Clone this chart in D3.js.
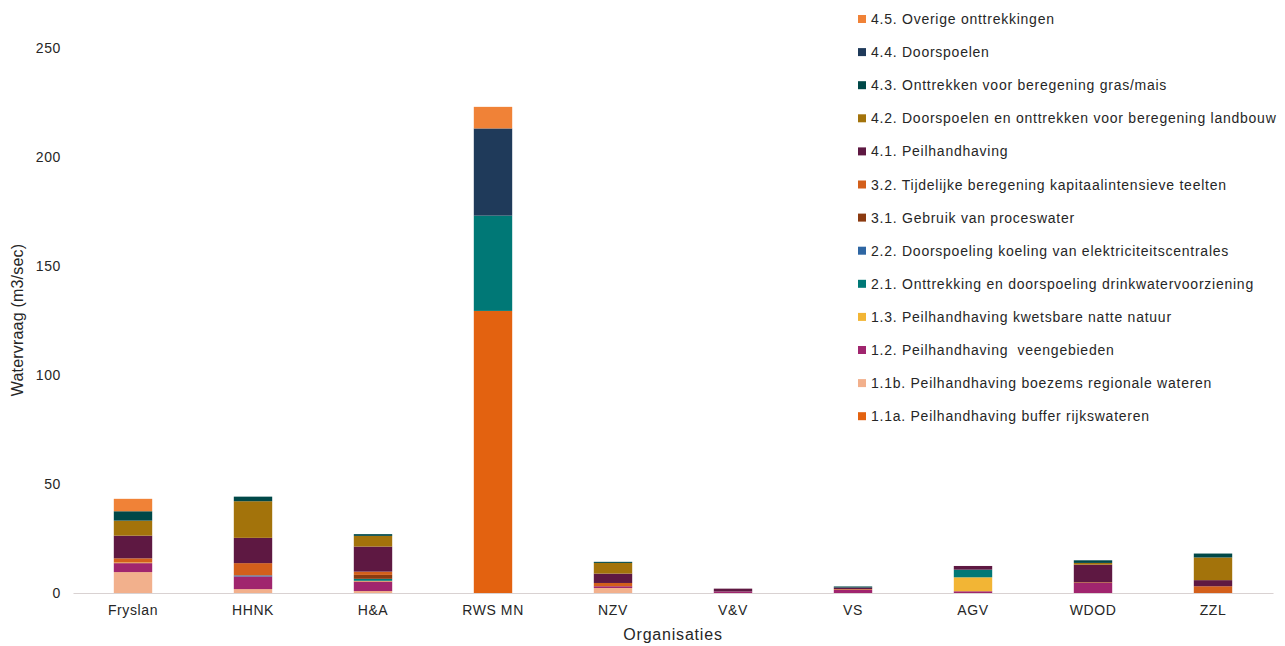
<!DOCTYPE html>
<html>
<head>
<meta charset="utf-8">
<script src="https://cdn.jsdelivr.net/npm/d3@7"></script>
<style>
  html, body { margin: 0; padding: 0; background: #ffffff; }
  svg { display: block; font-family: "Liberation Sans", Arial, sans-serif; }
</style>
</head>
<body>
<svg id="chart" width="1285" height="646"></svg>
<script>
// ---- data ----
const categories = ["Fryslan", "HHNK", "H&A", "RWS MN", "NZV", "V&V", "VS", "AGV", "WDOD", "ZZL"];

const seriesNames = [
  "1.1a. Peilhandhaving buffer rijkswateren",
  "1.1b. Peilhandhaving boezems regionale wateren",
  "1.2. Peilhandhaving  veengebieden",
  "1.3. Peilhandhaving kwetsbare natte natuur",
  "2.1. Onttrekking en doorspoeling drinkwatervoorziening",
  "2.2. Doorspoeling koeling van elektriciteitscentrales",
  "3.1. Gebruik van proceswater",
  "3.2. Tijdelijke beregening kapitaalintensieve teelten",
  "4.1. Peilhandhaving",
  "4.2. Doorspoelen en onttrekken voor beregening landbouw",
  "4.3. Onttrekken voor beregening gras/mais",
  "4.4. Doorspoelen",
  "4.5. Overige onttrekkingen"
];

const s11a = [0, 0, 0, 129.4, 0, 0, 0, 0, 0, 0];
const s11b = [9.6, 1.8, 0.9, 0, 2.3, 0, 0, 0, 0, 0];
const s12  = [4.1, 5.8, 4.4, 0, 0.8, 0.7, 1.5, 0.8, 4.6, 0];
const s13  = [0.3, 0, 0.3, 0, 0, 0, 0, 6.4, 0, 0];
const s21  = [0, 0, 0.9, 43.7, 0, 0, 0, 3.5, 0, 0];
const s22  = [0, 0.5, 0, 0, 0, 0, 0, 0, 0, 0];
const s31  = [0, 0, 1.8, 0, 0, 0, 0, 0, 0, 0];
const s32  = [1.9, 5.6, 1.5, 0, 1.5, 0, 0.3, 0, 0.3, 3.1];
const s41  = [10.4, 11.6, 11.5, 0, 4.3, 1.3, 0.7, 1.7, 8.1, 2.8];
const s42  = [6.9, 16.8, 4.9, 0, 4.9, 0, 0, 0, 0.8, 10.4];
const s43  = [4.3, 2.1, 0.8, 0, 0.5, 0, 0.5, 0, 1.2, 1.8];
const s44  = [0, 0, 0, 40.0, 0, 0, 0, 0, 0, 0];
const s45  = [5.7, 0, 0, 9.9, 0, 0, 0, 0, 0, 0];

const seriesValues = [s11a, s11b, s12, s13, s21, s22, s31, s32, s41, s42, s43, s44, s45];

const seriesColors = [
  "#E36210", "#F2B08C", "#A0256E", "#F2B535", "#007876", "#2E66A3", "#8B3A10",
  "#D35F1B", "#5E1842", "#A3730B", "#004848", "#1F3A5A", "#F08237"
];

const yTicks = [0, 50, 100, 150, 200, 250];
const yTitle = "Watervraag (m3/sec)";
const xTitle = "Organisaties";

// ---- build table ----
const table = categories.map((c, i) => {
  const row = { cat: c };
  seriesNames.forEach((n, k) => { row[n] = seriesValues[k][i]; });
  return row;
});

const svg = d3.select("#chart");

const x = d3.scaleBand().domain(categories).range([73, 1273]).paddingInner(0.68).paddingOuter(0.34);
const y = d3.scaleLinear().domain([0, 250]).range([593, 48]);

const stack = d3.stack().keys(seriesNames);
const stacked = stack(table);

// bars
svg.append("g").selectAll("g")
  .data(stacked)
  .join("g")
  .attr("fill", (d, i) => seriesColors[i])
  .selectAll("rect")
  .data(d => d)
  .join("rect")
  .attr("x", d => x(d.data.cat))
  .attr("width", x.bandwidth())
  .attr("y", d => y(d[1]))
  .attr("height", d => Math.max(0, y(d[0]) - y(d[1])));

// x axis baseline
const xAxis = d3.axisBottom(x).tickSize(0).tickPadding(12);
const gx = svg.append("g").attr("transform", "translate(0,593)").call(xAxis);
gx.select(".domain").attr("stroke", "#D9D2D2").attr("stroke-width", 1.2);
gx.selectAll("text")
  .attr("font-size", 14)
  .attr("fill", "#262626")
  .style("letter-spacing", "0.6px")
  .style("font-family", "'Liberation Sans', Arial, sans-serif");

// y axis
const yAxis = d3.axisLeft(y).tickValues(yTicks).tickSize(0).tickPadding(12);
const gy = svg.append("g").attr("transform", "translate(73,0)").call(yAxis);
gy.select(".domain").remove();
gy.selectAll("text")
  .attr("font-size", 14)
  .attr("fill", "#262626")
  .style("letter-spacing", "0.6px")
  .style("font-family", "'Liberation Sans', Arial, sans-serif");

// axis titles
svg.append("text")
  .attr("transform", "translate(23,320) rotate(-90)")
  .attr("text-anchor", "middle")
  .attr("font-size", 16)
  .attr("fill", "#262626")
  .style("letter-spacing", "0.2px")
  .text(yTitle);

svg.append("text")
  .attr("x", 673).attr("y", 640)
  .attr("text-anchor", "middle")
  .attr("font-size", 16)
  .attr("fill", "#262626")
  .style("letter-spacing", "0.8px")
  .text(xTitle);

// legend (reverse order)
const legendItems = seriesNames.map((n, i) => ({ name: n, color: seriesColors[i] })).reverse();
const lg = svg.append("g");
const li = lg.selectAll("g").data(legendItems).join("g")
  .attr("transform", (d, i) => `translate(858, ${19 + i * 33.1})`);
li.append("rect")
  .attr("x", 0).attr("y", -4).attr("width", 8).attr("height", 8)
  .attr("fill", d => d.color);
li.append("text")
  .attr("x", 13).attr("y", 5)
  .attr("font-size", 14)
  .attr("fill", "#262626")
  .style("letter-spacing", "0.75px")
  .style("white-space", "pre")
  .text(d => d.name);
</script>
</body>
</html>
